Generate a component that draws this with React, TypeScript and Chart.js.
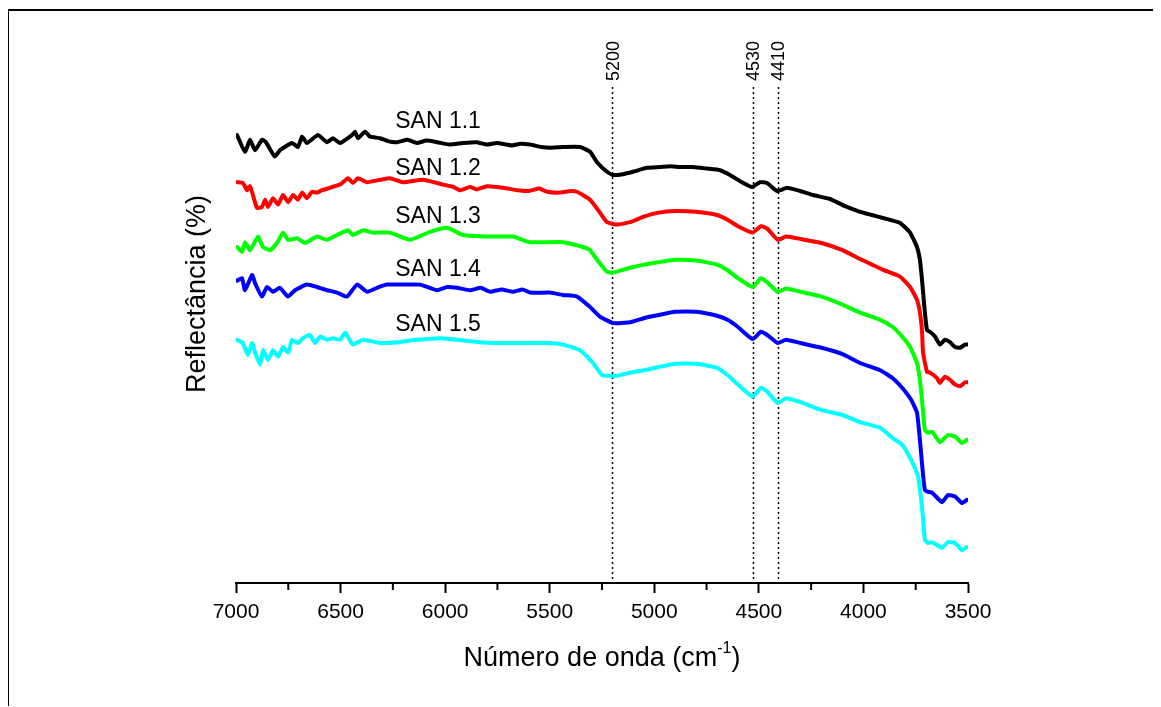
import React, { useEffect, useRef } from 'react';
import { Chart, registerables } from 'chart.js';

Chart.register(...registerables);

const FONT = '"Liberation Sans", Arial, Helvetica, sans-serif';

// ---- Data (wavenumber in cm-1, reflectance in arbitrary offset units) ----
const wnSan11 = [6995, 6957, 6933, 6909, 6876, 6857, 6814, 6790, 6732, 6704, 6684, 6661, 6608, 6565, 6536, 6503, 6445, 6431, 6417, 6383, 6359, 6311, 6270, 6230, 6180, 6135, 6090, 6039, 5980, 5915, 5850, 5800, 5752, 5680, 5640, 5594, 5540, 5499, 5437, 5355, 5307, 5274, 5226, 5197, 5150, 5102, 5035, 4973, 4925, 4877, 4815, 4748, 4686, 4638, 4581, 4533, 4495, 4461, 4413, 4365, 4303, 4241, 4160, 4088, 4016, 3959, 3902, 3825, 3777, 3744, 3730, 3720, 3706, 3696, 3682, 3658, 3634, 3610, 3586, 3562, 3538, 3514, 3500];
const rSan11 = [56.0, 53.9, 55.4, 54.1, 55.4, 55.1, 53.3, 54.1, 55.0, 54.5, 55.8, 55.0, 56.0, 55.1, 55.6, 55.0, 56.0, 56.4, 55.6, 56.4, 55.8, 55.6, 55.2, 55.1, 55.4, 55.0, 55.3, 55.1, 54.8, 55.0, 55.1, 54.8, 55.0, 54.7, 54.9, 54.8, 54.5, 54.4, 54.5, 54.5, 53.9, 52.6, 51.4, 51.0, 51.1, 51.4, 51.9, 52.0, 52.1, 52.0, 52.0, 51.8, 51.6, 51.0, 50.1, 49.5, 50.1, 50.0, 49.0, 49.4, 49.0, 48.5, 48.0, 47.1, 46.4, 46.0, 45.6, 45.0, 43.8, 42.0, 40.4, 37.9, 33.8, 31.6, 31.4, 30.8, 29.8, 30.4, 30.1, 29.5, 29.4, 29.8, 29.8];

const wnSan12 = [6995, 6967, 6947, 6933, 6919, 6900, 6876, 6861, 6847, 6823, 6799, 6775, 6751, 6727, 6704, 6684, 6661, 6637, 6613, 6589, 6551, 6503, 6464, 6441, 6417, 6374, 6311, 6264, 6201, 6106, 6010, 5960, 5929, 5881, 5850, 5800, 5752, 5700, 5656, 5600, 5550, 5513, 5450, 5400, 5370, 5307, 5260, 5226, 5178, 5116, 5050, 4980, 4900, 4800, 4700, 4650, 4600, 4530, 4490, 4460, 4410, 4370, 4300, 4200, 4100, 4016, 3959, 3902, 3825, 3777, 3744, 3730, 3720, 3715, 3696, 3682, 3648, 3634, 3610, 3586, 3562, 3538, 3514, 3500];
const rSan12 = [50.1, 50.0, 49.1, 49.6, 48.5, 46.9, 47.0, 47.9, 47.0, 48.1, 47.3, 48.5, 47.6, 48.5, 47.9, 48.8, 48.1, 48.9, 48.8, 49.1, 49.4, 49.8, 50.6, 50.0, 50.6, 50.1, 50.4, 50.6, 50.1, 50.4, 49.8, 49.5, 49.1, 49.5, 49.2, 49.6, 49.5, 49.3, 49.1, 49.0, 49.3, 48.9, 48.8, 49.0, 48.9, 47.9, 46.3, 45.1, 44.8, 45.1, 45.8, 46.3, 46.5, 46.4, 46.0, 45.4, 44.6, 43.8, 44.6, 44.3, 42.9, 43.3, 43.0, 42.5, 41.6, 40.5, 39.8, 39.1, 38.3, 37.0, 35.4, 33.8, 31.6, 28.8, 26.4, 26.3, 25.6, 25.0, 25.8, 25.4, 24.8, 24.6, 25.1, 25.1];

const wnSan13 = [6995, 6971, 6957, 6933, 6895, 6871, 6837, 6804, 6775, 6751, 6708, 6670, 6613, 6565, 6517, 6464, 6441, 6393, 6345, 6264, 6168, 6072, 5991, 5915, 5786, 5676, 5594, 5437, 5341, 5307, 5274, 5226, 5197, 5116, 5050, 4980, 4900, 4800, 4700, 4650, 4600, 4530, 4490, 4460, 4410, 4370, 4300, 4200, 4100, 4016, 3920, 3860, 3815, 3777, 3744, 3730, 3720, 3706, 3691, 3672, 3634, 3596, 3562, 3529, 3505];
const rSan13 = [42.0, 41.4, 42.6, 41.6, 43.3, 42.0, 41.6, 42.5, 43.8, 42.9, 43.1, 42.5, 43.3, 42.9, 43.5, 44.1, 43.5, 44.1, 43.8, 43.8, 42.9, 43.9, 44.4, 43.5, 43.3, 43.3, 42.6, 42.6, 42.0, 41.6, 40.4, 38.9, 38.8, 39.4, 39.8, 40.1, 40.4, 40.3, 39.8, 39.1, 38.1, 37.0, 38.1, 37.6, 36.4, 36.8, 36.4, 35.8, 34.8, 33.8, 32.9, 32.0, 30.8, 29.5, 27.5, 25.4, 22.9, 19.1, 18.8, 18.9, 17.6, 18.5, 18.3, 17.5, 17.9];

const wnSan14 = [6995, 6971, 6957, 6923, 6909, 6876, 6852, 6823, 6790, 6751, 6718, 6661, 6613, 6565, 6517, 6469, 6421, 6374, 6326, 6278, 6201, 6120, 6039, 5990, 5943, 5881, 5830, 5786, 5730, 5676, 5630, 5594, 5499, 5437, 5370, 5307, 5260, 5197, 5116, 5050, 4980, 4900, 4800, 4700, 4650, 4600, 4530, 4490, 4460, 4410, 4370, 4300, 4200, 4100, 4016, 3920, 3860, 3815, 3772, 3744, 3730, 3716, 3706, 3691, 3672, 3624, 3596, 3562, 3529, 3505];
const rSan14 = [37.8, 38.1, 36.6, 38.5, 37.5, 35.8, 37.0, 36.4, 36.9, 35.8, 36.6, 37.3, 37.0, 36.6, 36.3, 35.8, 37.3, 36.4, 36.9, 37.3, 37.3, 37.3, 36.6, 37.0, 36.9, 36.6, 36.9, 36.4, 36.7, 36.4, 36.7, 36.3, 36.3, 36.0, 35.8, 34.5, 33.3, 32.5, 32.6, 33.1, 33.5, 33.9, 33.9, 33.4, 32.9, 32.0, 30.5, 31.4, 31.0, 30.0, 30.4, 30.0, 29.4, 28.6, 27.5, 26.6, 25.6, 24.4, 22.9, 21.3, 17.9, 13.8, 11.6, 11.4, 11.3, 10.1, 11.0, 10.8, 10.0, 10.4];

const wnSan15 = [6995, 6967, 6943, 6923, 6909, 6885, 6871, 6847, 6823, 6799, 6775, 6751, 6732, 6704, 6680, 6646, 6622, 6598, 6565, 6536, 6503, 6479, 6441, 6393, 6311, 6230, 6135, 6025, 5943, 5833, 5752, 5642, 5513, 5437, 5355, 5293, 5250, 5178, 5116, 5050, 4980, 4900, 4800, 4700, 4650, 4600, 4530, 4490, 4460, 4410, 4370, 4300, 4200, 4100, 4016, 3920, 3860, 3815, 3772, 3739, 3720, 3706, 3691, 3672, 3624, 3596, 3562, 3529, 3505];
const rSan15 = [30.4, 30.0, 28.5, 30.0, 28.8, 27.3, 29.1, 27.9, 29.1, 28.3, 29.5, 28.8, 30.4, 30.0, 30.6, 31.0, 30.0, 30.8, 30.4, 30.6, 30.4, 31.3, 29.8, 30.4, 30.0, 30.1, 30.4, 30.6, 30.4, 30.1, 30.0, 30.0, 30.0, 29.8, 29.1, 27.5, 26.0, 25.9, 26.3, 26.6, 27.0, 27.4, 27.4, 26.9, 26.0, 24.8, 23.3, 24.4, 23.9, 22.5, 23.1, 22.6, 21.6, 21.0, 20.1, 19.4, 18.1, 17.3, 15.4, 13.3, 9.5, 5.4, 5.0, 5.1, 4.4, 5.1, 5.0, 4.1, 4.5];

const seriesNames = ['SAN 1.1', 'SAN 1.2', 'SAN 1.3', 'SAN 1.4', 'SAN 1.5'];
const seriesColors = ['#000000', '#ff0000', '#00ff00', '#0000ff', '#00ffff'];
const seriesWn = [wnSan11, wnSan12, wnSan13, wnSan14, wnSan15];
const seriesR = [rSan11, rSan12, rSan13, rSan14, rSan15];

// series label anchors (data units)
const labelWn = [6034, 6034, 6034, 6034, 6034];
const labelR = [56.9, 51.0, 45.0, 38.4, 31.5];

const markerWn = [5200, 4530, 4410];
const majorTicks = [7000, 6500, 6000, 5500, 5000, 4500, 4000, 3500];
const minorTicks = [6750, 6250, 5750, 5250, 4750, 4250, 3750];

const xTitle = 'Número de onda (cm';
const xTitleSup = '-1';
const xTitleEnd = ')';
const yTitle = 'Reflectância (%)';

const overlayPlugin = {
  id: 'overlay',
  beforeDatasetsDraw(chart: any) {
    const { ctx, chartArea, scales } = chart;
    const x = scales.x;
    ctx.save();
    ctx.strokeStyle = '#000';
    ctx.lineWidth = 1.5;
    ctx.setLineDash([2, 3]);
    for (const v of markerWn) {
      const px = Math.round(x.getPixelForValue(v)) + 0.5;
      ctx.beginPath();
      ctx.moveTo(px, chartArea.top);
      ctx.lineTo(px, chartArea.bottom);
      ctx.stroke();
    }
    ctx.restore();
  },
  afterDraw(chart: any) {
    const { ctx, chartArea, scales } = chart;
    const x = scales.x;
    const y = scales.y;
    ctx.save();
    ctx.fillStyle = '#000';
    ctx.strokeStyle = '#000';
    // minor ticks
    ctx.lineWidth = 2;
    for (const v of minorTicks) {
      const px = x.getPixelForValue(v);
      ctx.beginPath();
      ctx.moveTo(px, chartArea.bottom);
      ctx.lineTo(px, chartArea.bottom + 7);
      ctx.stroke();
    }
    // marker labels
    ctx.font = `18px ${FONT}`;
    ctx.textAlign = 'left';
    ctx.textBaseline = 'alphabetic';
    for (const v of markerWn) {
      const px = x.getPixelForValue(v);
      ctx.save();
      ctx.translate(px + 6.5, chartArea.top - 6);
      ctx.rotate(-Math.PI / 2);
      ctx.fillText(String(v), 0, 0);
      ctx.restore();
    }
    // series labels
    ctx.font = `23px ${FONT}`;
    ctx.textAlign = 'center';
    for (let i = 0; i < seriesNames.length; i++) {
      ctx.fillText(seriesNames[i], x.getPixelForValue(labelWn[i]), y.getPixelForValue(labelR[i]));
    }
    // x title with superscript
    const cx = (chartArea.left + chartArea.right) / 2;
    const base = chartArea.bottom + 83;
    ctx.font = `27px ${FONT}`;
    const w1 = ctx.measureText(xTitle).width;
    const w3 = ctx.measureText(xTitleEnd).width;
    ctx.font = `16px ${FONT}`;
    const w2 = ctx.measureText(xTitleSup).width;
    let sx = cx - (w1 + w2 + w3) / 2;
    ctx.textAlign = 'left';
    ctx.font = `27px ${FONT}`;
    ctx.fillText(xTitle, sx, base);
    sx += w1;
    ctx.font = `16px ${FONT}`;
    ctx.fillText(xTitleSup, sx, base - 13);
    sx += w2;
    ctx.font = `27px ${FONT}`;
    ctx.fillText(xTitleEnd, sx, base);
    // y title
    ctx.save();
    ctx.translate(205, 294);
    ctx.rotate(-Math.PI / 2);
    ctx.textAlign = 'center';
    ctx.font = `27px ${FONT}`;
    ctx.fillText(yTitle, 0, 0);
    ctx.restore();
    ctx.restore();
  },
};

export default function App() {
  const ref = useRef<HTMLCanvasElement>(null);
  useEffect(() => {
    document.body.style.overflow = 'hidden';
    const datasets = seriesNames.map((name, i) => ({
      label: name,
      data: seriesWn[i].map((w, j) => ({ x: w, y: seriesR[i][j] })),
      borderColor: seriesColors[i],
      backgroundColor: seriesColors[i],
      borderWidth: 4,
      pointRadius: 0,
      tension: 0.15,
      borderJoinStyle: 'round' as const,
      borderCapStyle: 'round' as const,
      fill: false,
    }));
    const chart = new Chart(ref.current as HTMLCanvasElement, {
      type: 'line',
      data: { datasets },
      plugins: [overlayPlugin],
      options: {
        animation: false,
        responsive: false,
        maintainAspectRatio: false,
        layout: { padding: { left: 236, right: 193, top: 87, bottom: 0 } },
        plugins: { legend: { display: false }, tooltip: { enabled: false }, title: { display: false } },
        scales: {
          x: {
            type: 'linear',
            min: 3500,
            max: 7000,
            reverse: true,
            afterBuildTicks: (scale: any) => {
              scale.ticks = majorTicks.map((v) => ({ value: v }));
            },
            afterFit: (scale: any) => {
              scale.height = 124;
            },
            grid: {
              display: true,
              drawOnChartArea: false,
              drawTicks: true,
              tickLength: 10,
              tickWidth: 2,
              tickColor: '#000',
            },
            border: { display: true, color: '#000', width: 2 },
            ticks: {
              color: '#000',
              font: { family: FONT, size: 21 },
              padding: 7,
              maxRotation: 0,
              autoSkip: false,
              callback: (v: any) => String(v),
            },
          },
          y: {
            type: 'linear',
            display: false,
            min: 0,
            max: 62,
          },
        },
      },
    });
    return () => chart.destroy();
  }, []);
  return (
    <div
      style={{
        position: 'relative',
        left: -1,
        top: 1,
        width: 1154,
        height: 698,
        borderLeft: '2px solid #000',
        borderTop: '2px solid #000',
        boxSizing: 'border-box',
      }}
    >
      <canvas
        ref={ref}
        width={1161}
        height={707}
        style={{ position: 'absolute', left: -9, top: -11, width: 1161, height: 707, display: 'block' }}
      />
    </div>
  );
}
